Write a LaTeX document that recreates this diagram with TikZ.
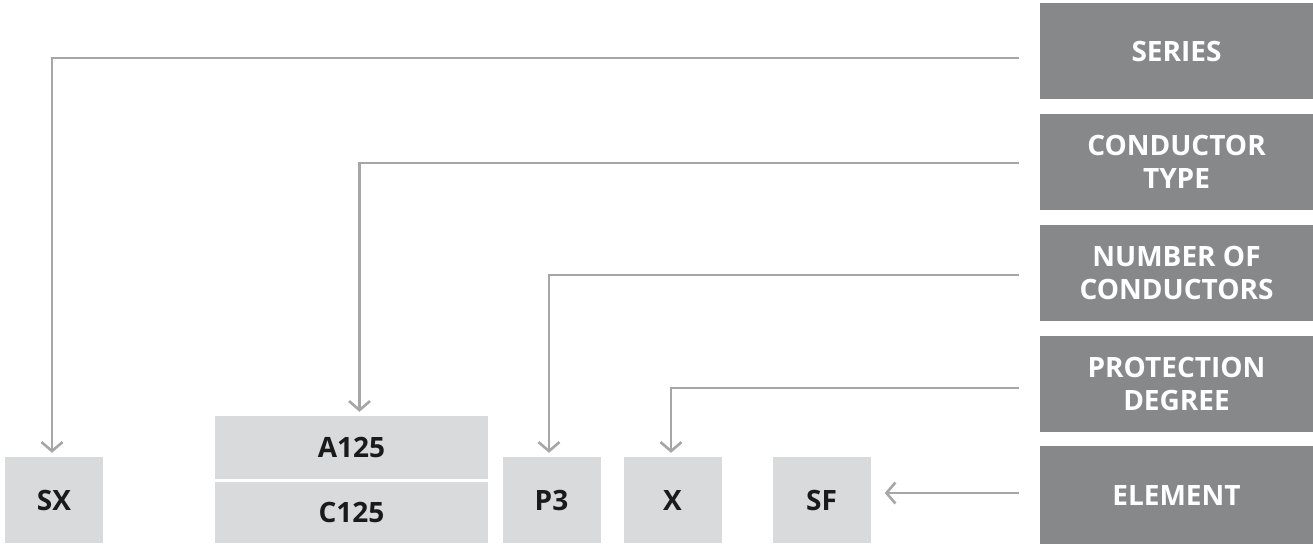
\documentclass[tikz,border=0pt]{standalone}
\usepackage{fontspec}
\setmainfont{Open Sans}
\usetikzlibrary{arrows.meta}
\definecolor{keybox}{HTML}{87888A}
\definecolor{codebox}{HTML}{D9DADB}
\definecolor{codetext}{HTML}{1A1A1A}
\definecolor{wire}{HTML}{A6A6A6}
\tikzset{
  keynode/.style={rectangle, fill=keybox, inner sep=0pt, minimum width=273pt,
    minimum height=96pt, text=white, align=center,
    font=\fontsize{28}{33}\selectfont\bfseries},
  codenode/.style={rectangle, fill=codebox, inner sep=0pt, minimum width=98pt,
    minimum height=86pt, text=codetext, font=\fontsize{28}{33}\selectfont\bfseries},
  conn/.style={draw=wire, line width=2.6pt,
    -{Straight Barb[length=9pt,width=21pt]}},
}
\begin{document}
\begin{tikzpicture}[x=1pt,y=-1pt]
\useasboundingbox (0,0) rectangle (1313,544);

% legend column on the right
\node[keynode] (series) at (1176.5,51) {SERIES};
\node[keynode] (ctype) at (1176.5,162) {CONDUCTOR\\TYPE};
\node[keynode] (ncond) at (1176.5,273) {NUMBER OF\\CONDUCTORS};
\node[keynode] (prot) at (1176.5,384) {PROTECTION\\DEGREE};
\node[keynode, minimum height=98pt] (elem) at (1176.5,495) {ELEMENT};

% code blocks along the bottom
\node[codenode] (sx) at (54,500) {SX};
\node[codenode, minimum width=273pt, minimum height=63pt] (a125) at (351.5,447.5) {A125};
\node[codenode, minimum width=273pt, minimum height=61pt] (c125) at (351.5,512.5) {C125};
\node[codenode] (p3) at (551.5,500) {P3};
\node[codenode] (x) at (672.5,500) {X};
\node[codenode] (sf) at (821.5,500) {SF};

% line start points, just left of each legend box
\coordinate (ls) at ([xshift=-21pt]series.west |- 0,58);
\coordinate (lc) at ([xshift=-21pt]ctype.west |- 0,163);
\coordinate (ln) at ([xshift=-21pt]ncond.west |- 0,275);
\coordinate (lp) at ([xshift=-21pt]prot.west |- 0,388);
\coordinate (le) at ([xshift=-21pt]elem.west |- 0,493);

% connectors
\draw[conn, shorten >=4pt] (ls) -| ([xshift=-2pt]sx.north);
\draw[conn, shorten >=4pt] (lc) -| ([xshift=8pt]a125.north);
\draw[conn, shorten >=4pt] (ln) -| ([xshift=-2.5pt]p3.north);
\draw[conn, shorten >=4pt] (lp) -| ([xshift=-1.5pt]x.north);
\draw[conn, shorten >=14pt] (le) -- (sf.east |- le);
\end{tikzpicture}
\end{document}
